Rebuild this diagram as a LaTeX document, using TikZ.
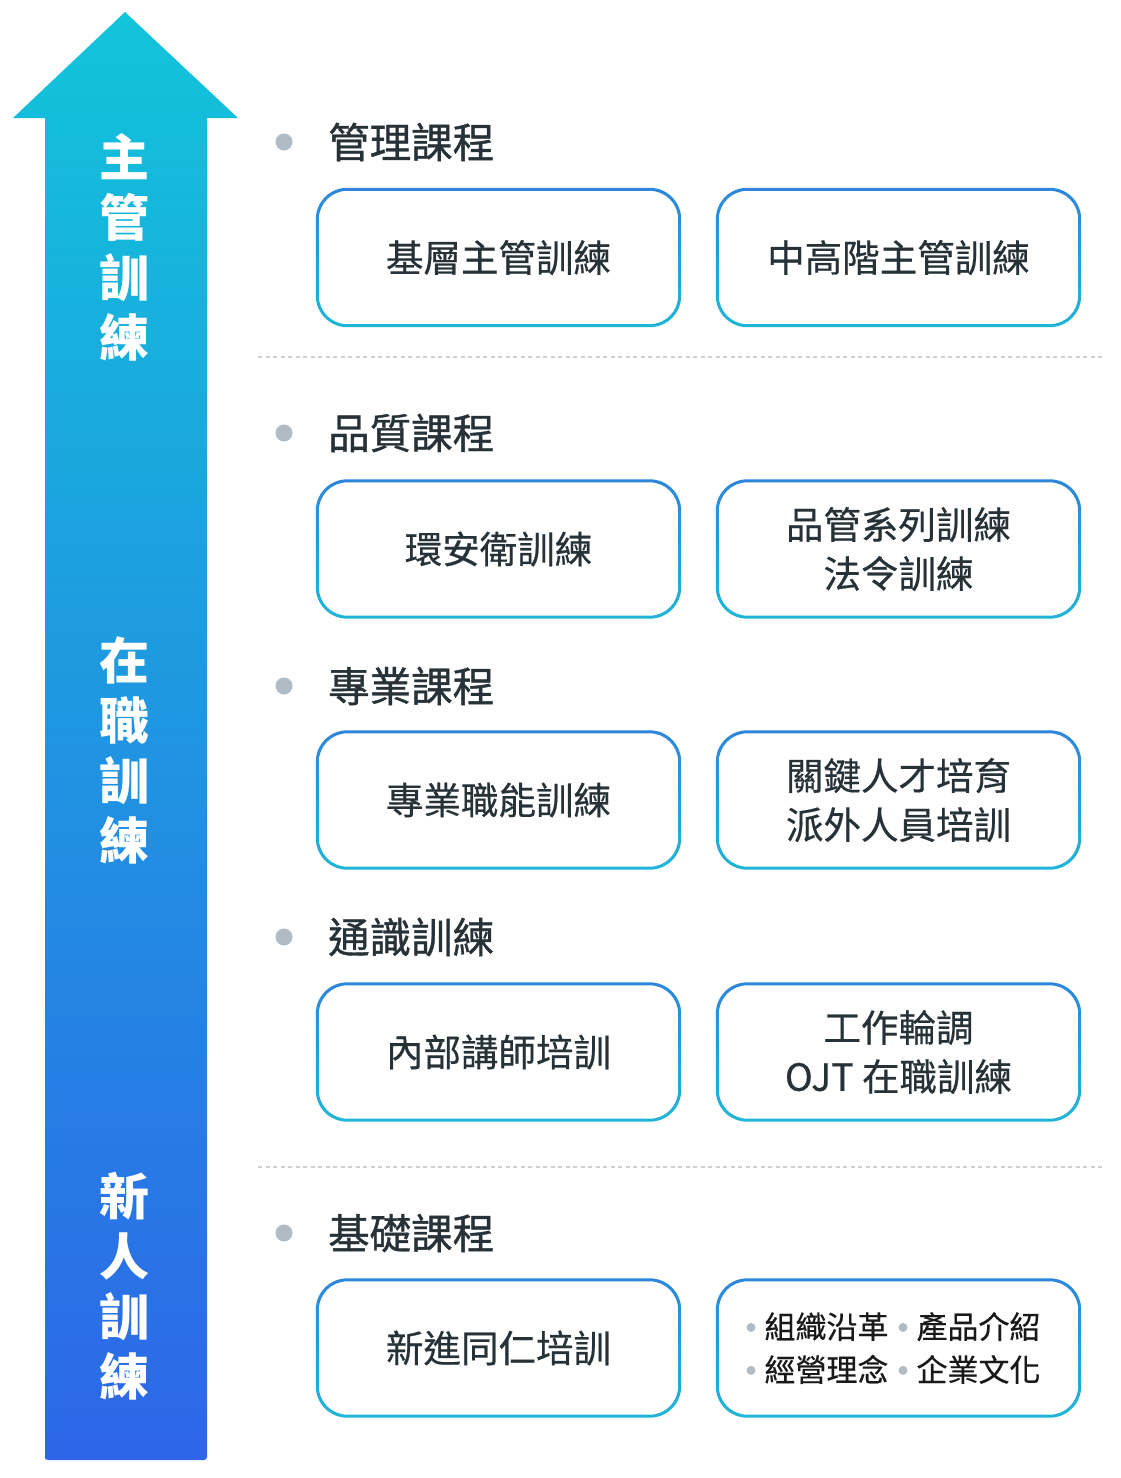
\documentclass[tikz,border=0pt]{standalone}
\usepackage{fontspec}
\setmainfont{Noto Sans CJK TC}
\newfontfamily\titlefont[FakeBold=0.9]{Noto Sans CJK TC}
\newfontfamily\boxfont[FakeBold=0.45]{Noto Sans CJK TC}
\usetikzlibrary{calc}
\definecolor{arrowtop}{HTML}{12C4DA}
\definecolor{arrowbot}{HTML}{2D66E8}
\definecolor{bordtop}{HTML}{2C86DC}
\definecolor{bordbot}{HTML}{20B6D8}
\definecolor{txt}{HTML}{263238}
\definecolor{bulletgray}{HTML}{B1BBC3}
\definecolor{dashgray}{HTML}{C9D0D6}
\tikzset{
  box/.style={minimum width=362pt, minimum height=136pt, inner sep=0pt,
    align=center, text=txt, font=\boxfont\fontsize{37.5}{49}\selectfont},
  smallbox/.style={box, text=black!90, font=\boxfont\fontsize{31}{43}\selectfont},
  sectitle/.style={anchor=west, inner sep=0pt, text=txt, font=\titlefont\fontsize{41.5}{48}\selectfont},
  bulletdot/.style={circle, fill=bulletgray, inner sep=0pt, minimum size=17pt},
  sidelabel/.style={text=white, align=center, inner sep=0pt, font=\bfseries\fontsize{50}{60}\selectfont},
  sepline/.style={draw=dashgray, line width=1.2pt, dash pattern=on 4pt off 3.5pt}
}
\newcommand{\ringbox}[1]{%
  \shade[top color=bordtop, bottom color=bordbot, even odd rule]
    [rounded corners=31.5pt] ($(#1.south west)+(-1.5,-1.5)$) rectangle ($(#1.north east)+(1.5,1.5)$)
    [rounded corners=28.5pt] ($(#1.south west)+(1.5,1.5)$) rectangle ($(#1.north east)+(-1.5,-1.5)$);}
\newcommand{\smallbul}{\tikz[baseline=-11pt]\fill[bulletgray] (0pt,0pt) circle (4.5pt);\hspace{9pt}}
\begin{document}
\begin{tikzpicture}[x=1pt,y=1pt]
\useasboundingbox[fill=white] (0,0) rectangle (1120,-1478);
% arrow
\shade[top color=arrowtop, bottom color=arrowbot, rounded corners=0pt]
  (45,-1457) -- (45,-118) -- (13,-118) -- (125,-12) -- (238,-118) -- (207,-118) -- (207,-1457)
  [rounded corners=3pt] -- (207,-1460) -- (45,-1460) -- cycle;
\node[sidelabel] (l1) at (124,-247) {主\\管\\訓\\練};
\node[sidelabel] (l2) at (124,-750) {在\\職\\訓\\練};
\node[sidelabel] (l3) at (124,-1286) {新\\人\\訓\\練};
% separators
\coordinate (s1a) at (258,-357); \coordinate (s1b) at (1105,-357);
\coordinate (s2a) at (258,-1167); \coordinate (s2b) at (1105,-1167);
\draw[sepline] (s1a) -- (s1b);
\draw[sepline] (s2a) -- (s2b);
% section titles
\node[bulletdot] (d1) at (284,-142) {};
\node[sectitle] (t1) at (328,-142) {管理課程};
\node[bulletdot] (d2) at (284,-433) {};
\node[sectitle] (t2) at (328,-433) {品質課程};
\node[bulletdot] (d3) at (284,-686) {};
\node[sectitle] (t3) at (328,-686) {專業課程};
\node[bulletdot] (d4) at (284,-937) {};
\node[sectitle] (t4) at (328,-937) {通識訓練};
\node[bulletdot] (d5) at (284,-1233) {};
\node[sectitle] (t5) at (328,-1233) {基礎課程};
% boxes
\node[box] (b1l) at (498.5,-257.5) {基層主管訓練};
\node[box] (b1r) at (898.5,-257.5) {中高階主管訓練};
\node[box] (b2l) at (498.5,-549) {環安衛訓練};
\node[box] (b2r) at (898.5,-549) {品管系列訓練\\法令訓練};
\node[box] (b3l) at (498.5,-800) {專業職能訓練};
\node[box] (b3r) at (898.5,-800) {關鍵人才培育\\派外人員培訓};
\node[box] (b4l) at (498.5,-1052) {內部講師培訓};
\node[box] (b4r) at (898.5,-1052) {工作輪調\\OJT 在職訓練};
\node[box] (b5l) at (498.5,-1348) {新進同仁培訓};
\node[smallbox] (b5r) at (898.5,-1348) {\hspace*{-10pt}\smallbul 組織沿革\hspace{10pt}\smallbul 產品介紹\\\hspace*{-10pt}\smallbul 經營理念\hspace{10pt}\smallbul 企業文化};
\foreach \b in {b1l,b1r,b2l,b2r,b3l,b3r,b4l,b4r,b5l,b5r} {\ringbox{\b}}
\end{tikzpicture}
\end{document}
